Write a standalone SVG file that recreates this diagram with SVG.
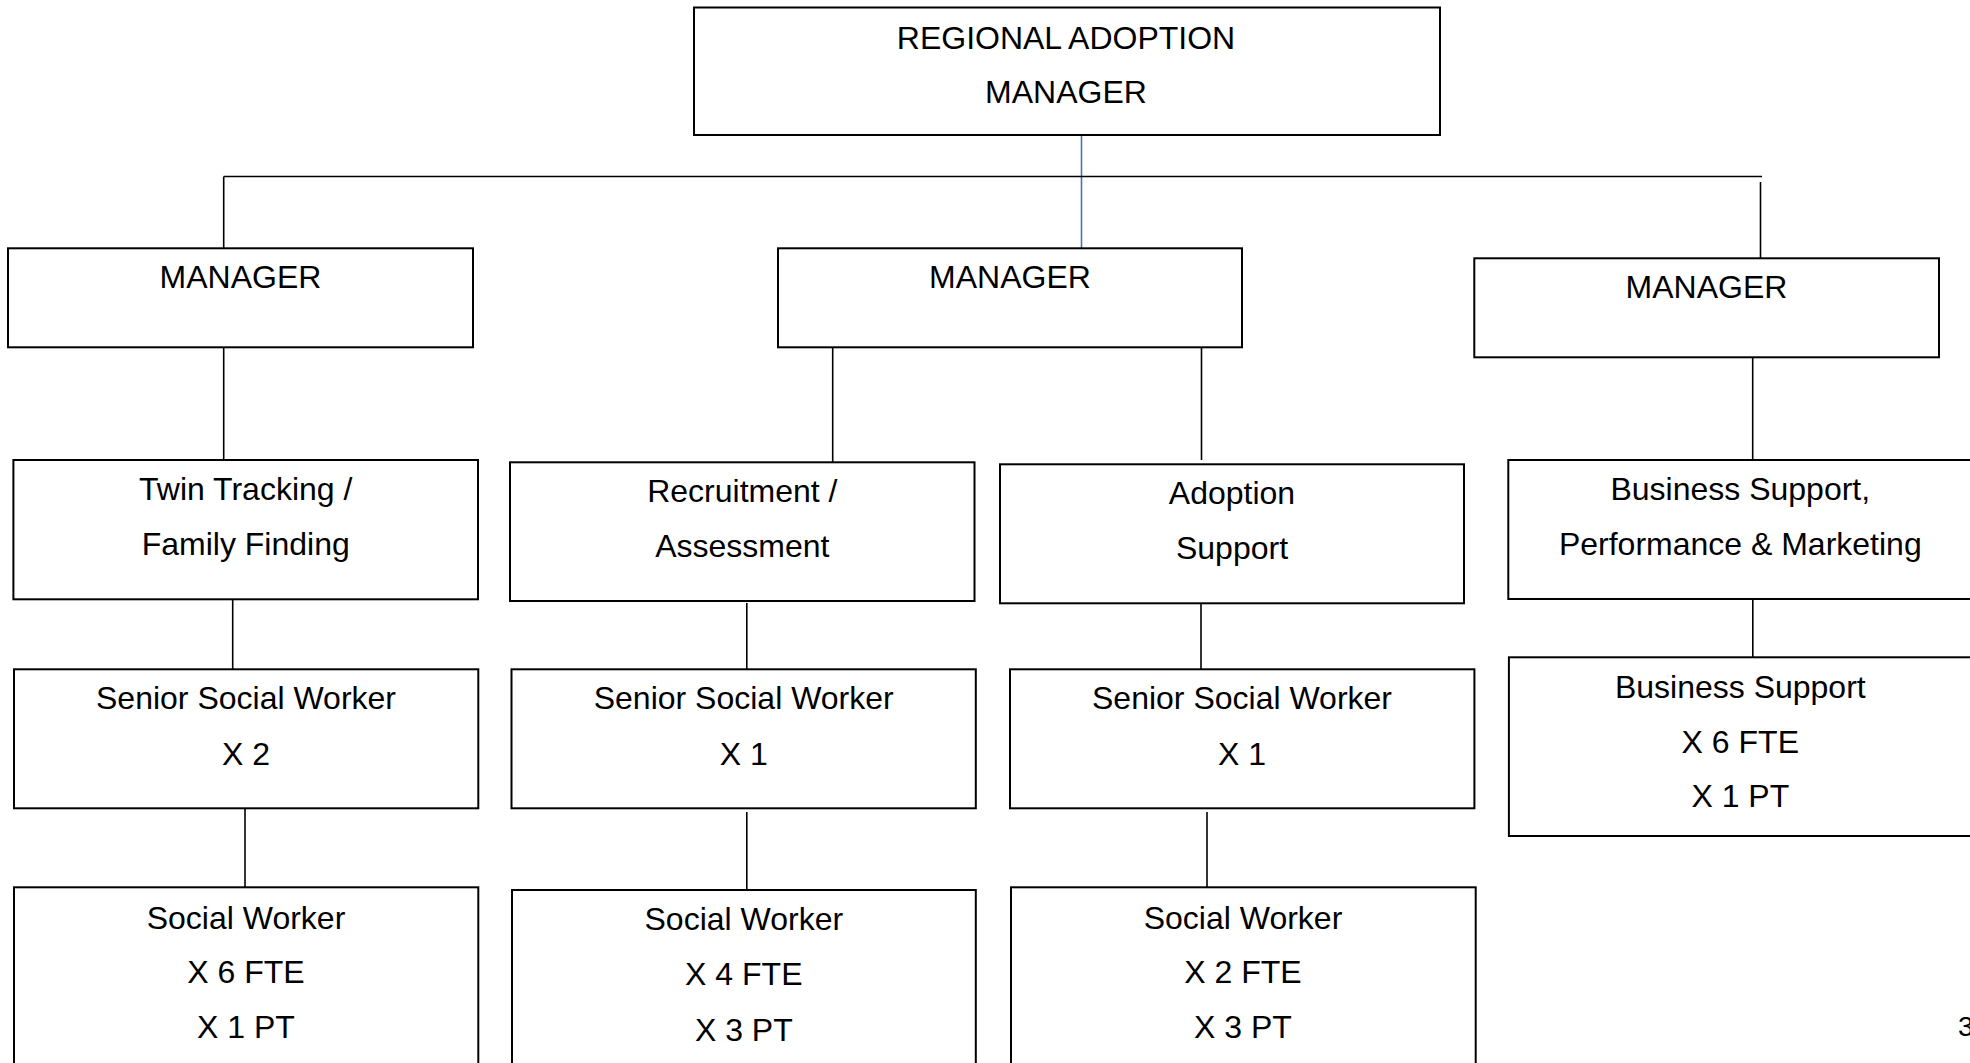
<svg xmlns="http://www.w3.org/2000/svg" width="1970" height="1063" viewBox="0 0 1970 1063">
<style>
.box{fill:#fff;stroke:#000;stroke-width:2}
.ln{stroke:#000;stroke-width:1.6;fill:none}
.blue{stroke:#4472C4;stroke-width:1.6;fill:none}
text{font-family:"Liberation Sans",Arial,sans-serif;font-size:32px;fill:#000;text-anchor:middle}
</style>
<rect width="1970" height="1063" fill="#fff"/>
<g id="connectors">
<line class="blue" x1="1081.5" y1="135" x2="1081.5" y2="248"/>
<line class="ln" x1="223.7" y1="176.5" x2="1762" y2="176.5"/>
<line class="ln" x1="223.7" y1="176.5" x2="223.7" y2="248"/>
<line class="ln" x1="1760.5" y1="182" x2="1760.5" y2="258"/>
<line class="ln" x1="223.7" y1="347" x2="223.7" y2="460"/>
<line class="ln" x1="832.7" y1="347" x2="832.7" y2="462"/>
<line class="ln" x1="1201.5" y1="347" x2="1201.5" y2="460"/>
<line class="ln" x1="1752.7" y1="357" x2="1752.7" y2="460"/>
<line class="ln" x1="232.7" y1="599" x2="232.7" y2="669"/>
<line class="ln" x1="245" y1="808" x2="245" y2="887"/>
<line class="ln" x1="746.8" y1="603" x2="746.8" y2="673"/>
<line class="ln" x1="746.8" y1="812" x2="746.8" y2="892"/>
<line class="ln" x1="1201" y1="603" x2="1201" y2="671"/>
<line class="ln" x1="1207" y1="812" x2="1207" y2="891"/>
<line class="ln" x1="1752.8" y1="599" x2="1752.8" y2="657"/>
</g>
<g id="regional-manager">
<rect class="box" x="694" y="7.5" width="746" height="127.5"/>
<text x="1066" y="48.5">REGIONAL ADOPTION</text>
<text x="1066" y="103.3">MANAGER</text>
</g>
<g id="manager-left">
<rect class="box" x="8" y="248.3" width="465" height="99"/>
<text x="240.5" y="288.3">MANAGER</text>
</g>
<g id="manager-mid">
<rect class="box" x="778" y="248.3" width="464" height="99"/>
<text x="1010" y="288.3">MANAGER</text>
</g>
<g id="manager-right">
<rect class="box" x="1474.3" y="258.3" width="464.7" height="99"/>
<text x="1706.5" y="298.3">MANAGER</text>
</g>
<g id="twin-tracking">
<rect class="box" x="13.4" y="460" width="464.6" height="139.3"/>
<text x="245.7" y="500.2">Twin Tracking /</text>
<text x="245.7" y="554.5">Family Finding</text>
</g>
<g id="recruitment">
<rect class="box" x="510" y="462.3" width="464.5" height="138.7"/>
<text x="742.3" y="501.5">Recruitment /</text>
<text x="742.3" y="556.5">Assessment</text>
</g>
<g id="adoption-support">
<rect class="box" x="1000" y="464.3" width="464" height="139"/>
<text x="1232" y="503.8">Adoption</text>
<text x="1232" y="558.8">Support</text>
</g>
<g id="business-support-pm">
<rect class="box" x="1508.3" y="460" width="470" height="139"/>
<text x="1740.3" y="500">Business Support,</text>
<text x="1740.3" y="554.5">Performance &amp; Marketing</text>
</g>
<g id="senior-sw-1">
<rect class="box" x="14" y="669.3" width="464.3" height="139"/>
<text x="246" y="708.8">Senior Social Worker</text>
<text x="246" y="765">X 2</text>
</g>
<g id="senior-sw-2">
<rect class="box" x="511.5" y="669.3" width="464.3" height="139"/>
<text x="743.7" y="708.8">Senior Social Worker</text>
<text x="743.7" y="765">X 1</text>
</g>
<g id="senior-sw-3">
<rect class="box" x="1010" y="669.3" width="464.4" height="139"/>
<text x="1242" y="708.8">Senior Social Worker</text>
<text x="1242" y="765">X 1</text>
</g>
<g id="business-support">
<rect class="box" x="1508.9" y="657.3" width="470" height="178.7"/>
<text x="1740.3" y="697.5">Business Support</text>
<text x="1740.3" y="752.8">X 6 FTE</text>
<text x="1740.3" y="806.8">X 1 PT</text>
</g>
<g id="sw-1">
<rect class="box" x="14" y="887.3" width="464.3" height="190"/>
<text x="246" y="928.5">Social Worker</text>
<text x="246" y="982.5">X 6 FTE</text>
<text x="246" y="1038">X 1 PT</text>
</g>
<g id="sw-2">
<rect class="box" x="512" y="890" width="463.8" height="190"/>
<text x="743.8" y="930">Social Worker</text>
<text x="743.8" y="985">X 4 FTE</text>
<text x="743.8" y="1040.5">X 3 PT</text>
</g>
<g id="sw-3">
<rect class="box" x="1011" y="887.3" width="464.7" height="190"/>
<text x="1243" y="928.5">Social Worker</text>
<text x="1243" y="982.5">X 2 FTE</text>
<text x="1243" y="1038">X 3 PT</text>
</g>
<text x="1958" y="1036" style="text-anchor:start;font-size:28px">3</text>
</svg>
